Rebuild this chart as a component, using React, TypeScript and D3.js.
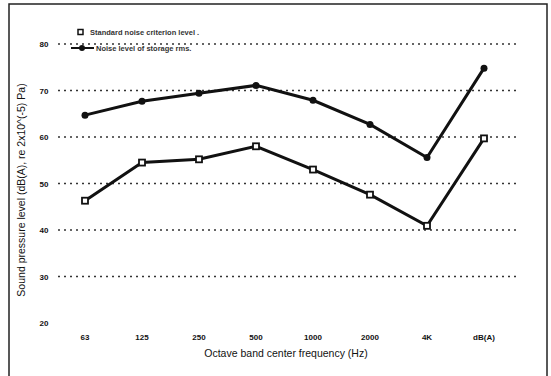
import { useEffect, useRef } from "react";
import * as d3 from "d3";

// octave band categories
const bands = ["63", "125", "250", "500", "1000", "2000", "4K", "dB(A)"];
// upper curve (filled markers)
const storageLevel = [64.7, 67.7, 69.4, 71.1, 67.9, 62.7, 55.6, 74.8];
// lower curve (open markers)
const criterionLevel = [46.3, 54.5, 55.2, 58.0, 53.0, 47.6, 40.9, 59.7];
// y ticks
const yTicks = [80, 70, 60, 50, 40, 30, 20];
const gridTicks = [80, 70, 60, 50, 40, 30];
const legendLabels = ["Standard noise criterion level .", "Noise level of storage rms."];

const W = 551;
const H = 376;
const FONT = "'Liberation Sans', Arial, sans-serif";

const App = () => {
  const ref = useRef<SVGSVGElement | null>(null);

  useEffect(() => {
    const svg = d3.select(ref.current);
    svg.selectAll("*").remove();

    const x = d3.scalePoint<string>().domain(bands).range([85, 484]).padding(0);
    const y = d3.scaleLinear().domain([20, 80]).range([323, 44]);

    // frame
    svg
      .append("rect")
      .attr("x", 9)
      .attr("y", 4)
      .attr("width", 538)
      .attr("height", 390)
      .attr("fill", "none")
      .attr("stroke", "#222")
      .attr("stroke-width", 1.5);

    // dotted grid
    svg
      .append("g")
      .selectAll("line")
      .data(gridTicks)
      .join("line")
      .attr("x1", 58)
      .attr("x2", 518)
      .attr("y1", (d) => y(d))
      .attr("y2", (d) => y(d))
      .attr("stroke", "#333")
      .attr("stroke-width", 1.3)
      .attr("stroke-dasharray", "2,4");

    // y tick labels
    svg
      .append("g")
      .selectAll("text")
      .data(yTicks)
      .join("text")
      .attr("x", 44)
      .attr("y", (d) => y(d) + 3)
      .attr("text-anchor", "middle")
      .attr("font-family", FONT)
      .attr("font-size", 8)
      .attr("font-weight", "bold")
      .attr("fill", "#111")
      .text((d) => d);

    // x tick labels
    svg
      .append("g")
      .selectAll("text")
      .data(bands)
      .join("text")
      .attr("x", (d) => x(d)!)
      .attr("y", 340)
      .attr("text-anchor", "middle")
      .attr("font-family", FONT)
      .attr("font-size", 8)
      .attr("font-weight", "bold")
      .attr("fill", "#111")
      .text((d) => d);

    // axis titles
    svg
      .append("text")
      .attr("x", 286)
      .attr("y", 357)
      .attr("text-anchor", "middle")
      .attr("font-family", FONT)
      .attr("font-size", 10.5)
      .attr("fill", "#111")
      .text("Octave band center frequency (Hz)");

    svg
      .append("text")
      .attr("transform", "translate(25,190) rotate(-90)")
      .attr("text-anchor", "middle")
      .attr("font-family", FONT)
      .attr("font-size", 10.5)
      .attr("fill", "#111")
      .text("Sound pressure level (dB(A), re 2x10^(-5) Pa)");

    const line = d3
      .line<number>()
      .x((_, i) => x(bands[i])!)
      .y((d) => y(d));

    // upper series
    svg
      .append("path")
      .datum(storageLevel)
      .attr("d", line)
      .attr("fill", "none")
      .attr("stroke", "#111")
      .attr("stroke-width", 3);
    svg
      .append("g")
      .selectAll("circle")
      .data(storageLevel)
      .join("circle")
      .attr("cx", (_, i) => x(bands[i])!)
      .attr("cy", (d) => y(d))
      .attr("r", 3.5)
      .attr("fill", "#111");

    // lower series
    svg
      .append("path")
      .datum(criterionLevel)
      .attr("d", line)
      .attr("fill", "none")
      .attr("stroke", "#111")
      .attr("stroke-width", 3);
    svg
      .append("g")
      .selectAll("rect")
      .data(criterionLevel)
      .join("rect")
      .attr("x", (_, i) => x(bands[i])! - 3)
      .attr("y", (d) => y(d) - 3)
      .attr("width", 6)
      .attr("height", 6)
      .attr("fill", "#fff")
      .attr("stroke", "#111")
      .attr("stroke-width", 1.8);

    // legend
    const lg = svg.append("g");
    lg.append("rect")
      .attr("x", 78)
      .attr("y", 29.5)
      .attr("width", 5)
      .attr("height", 5)
      .attr("fill", "#fff")
      .attr("stroke", "#111")
      .attr("stroke-width", 1.5);
    lg.append("text")
      .attr("x", 90)
      .attr("y", 35)
      .attr("font-family", FONT)
      .attr("font-size", 7.5)
      .attr("font-weight", "bold")
      .attr("fill", "#333")
      .text(legendLabels[0]);
    lg.append("line")
      .attr("x1", 71)
      .attr("x2", 94)
      .attr("y1", 48)
      .attr("y2", 48)
      .attr("stroke", "#111")
      .attr("stroke-width", 2);
    lg.append("circle").attr("cx", 82).attr("cy", 48).attr("r", 3).attr("fill", "#111");
    lg.append("text")
      .attr("x", 96)
      .attr("y", 51)
      .attr("font-family", FONT)
      .attr("font-size", 7.5)
      .attr("font-weight", "bold")
      .attr("fill", "#333")
      .text(legendLabels[1]);
  }, []);

  return (
    <svg
      ref={ref}
      width={W}
      height={H}
      style={{ position: "absolute", left: 0, top: 0, background: "#fff" }}
    />
  );
};

export default App;
